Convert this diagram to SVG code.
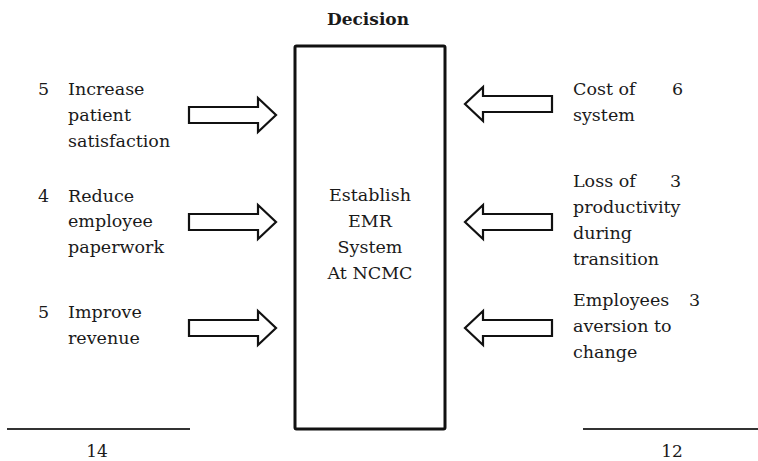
<svg xmlns="http://www.w3.org/2000/svg" width="758" height="461" viewBox="0 0 758 461" font-family="DejaVu Serif, serif">
  <style>
    text { font-family: 'DejaVu Serif', 'Liberation Serif', serif; font-size: 17.5px; fill: #1a1a1a; }
    .title { font-weight: bold; font-size: 17px; }
    .mid { text-anchor: middle; }
    .total { font-size: 17px; }
    .arrow { fill: #ffffff; stroke: #111111; stroke-width: 2.2; stroke-linejoin: miter; }
    .rule { stroke: #333333; stroke-width: 2; }
  </style>
  <defs>
    <!-- hollow block arrow pointing right, tip at origin -->
    <path id="arrowR" d="M-87,-8 L-18,-8 L-18,-17 L0,0 L-18,17 L-18,8 L-87,8 Z"/>
    <!-- hollow block arrow pointing left, tip at origin -->
    <path id="arrowL" d="M87,-8 L18,-8 L18,-17 L0,0 L18,17 L18,8 L87,8 Z"/>
  </defs>
  <rect width="758" height="461" fill="#ffffff"/>

  <text class="title mid" x="368" y="25">Decision</text>

  <g id="decision">
    <rect x="295" y="46" width="150" height="383" fill="none" stroke="#111111" stroke-width="3" rx="1.5"/>
    <text class="mid" x="370" y="201">Establish</text>
    <text class="mid" x="370" y="227">EMR</text>
    <text class="mid" x="370" y="253">System</text>
    <text class="mid" x="370" y="279">At NCMC</text>
  </g>

  <g id="pro-satisfaction">
    <text x="38" y="95">5</text>
    <text x="68" y="95">Increase</text>
    <text x="68" y="121">patient</text>
    <text x="68" y="147">satisfaction</text>
  </g>
  <g id="pro-paperwork">
    <text x="38" y="202">4</text>
    <text x="68" y="202">Reduce</text>
    <text x="68" y="227">employee</text>
    <text x="68" y="253">paperwork</text>
  </g>
  <g id="pro-revenue">
    <text x="38" y="318">5</text>
    <text x="68" y="318">Improve</text>
    <text x="68" y="344">revenue</text>
  </g>

  <g id="con-cost">
    <text x="573" y="95">Cost of</text>
    <text x="573" y="121">system</text>
    <text x="672" y="95">6</text>
  </g>
  <g id="con-productivity">
    <text x="573" y="187">Loss of</text>
    <text x="573" y="213">productivity</text>
    <text x="573" y="239">during</text>
    <text x="573" y="265">transition</text>
    <text x="670" y="187">3</text>
  </g>
  <g id="con-aversion">
    <text x="573" y="306">Employees</text>
    <text x="573" y="332">aversion to</text>
    <text x="573" y="358">change</text>
    <text x="689" y="306">3</text>
  </g>

  <g id="connectors">
    <use href="#arrowR" class="arrow" transform="translate(276,115)"/>
    <use href="#arrowR" class="arrow" transform="translate(276,222)"/>
    <use href="#arrowR" class="arrow" transform="translate(276,328)"/>
    <use href="#arrowL" class="arrow" transform="translate(465,104)"/>
    <use href="#arrowL" class="arrow" transform="translate(465,222)"/>
    <use href="#arrowL" class="arrow" transform="translate(465,328)"/>
  </g>

  <g id="totals">
    <line class="rule" x1="7" y1="429" x2="190" y2="429"/>
    <line class="rule" x1="583" y1="429" x2="758" y2="429"/>
    <text class="total mid" x="97" y="457">14</text>
    <text class="total mid" x="672" y="457">12</text>
  </g>
</svg>
